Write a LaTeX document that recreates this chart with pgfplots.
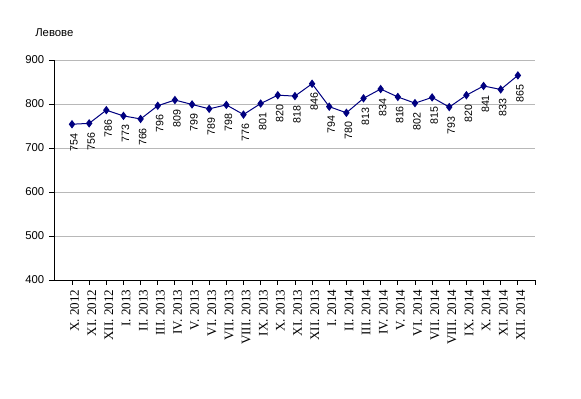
\documentclass[border=0pt]{standalone}
\usepackage{fontspec}
\setmainfont{Liberation Sans}
\newfontfamily\tnr{Liberation Serif}
\usepackage{pgfplots}
\pgfplotsset{compat=1.18}
\definecolor{navy}{RGB}{0,0,128}
\begin{document}
\begin{tikzpicture}
\useasboundingbox (0,0) rectangle (435.75pt,299.25pt);
\begin{axis}[
  at={(40.5pt,89.25pt)}, anchor=south west,
  scale only axis, width=360.75pt, height=165pt,
  xmin=-1.05, xmax=27, ymin=400, ymax=900,
  axis x line=bottom, axis y line=left,
  axis line style={-, black, line width=0.6pt},
  ytick={400,500,...,900},
  ymajorgrids, grid style={black!28, line width=0.6pt},
  xtick={0,...,27},
  xticklabels={X. 2012, XI. 2012, XII. 2012, I. 2013, II. 2013, III. 2013, IV. 2013, V. 2013, VI. 2013, VII. 2013, VIII. 2013, IX. 2013, X. 2013, XI. 2013, XII. 2013, I. 2014, II. 2014, III. 2014, IV. 2014, V. 2014, VI. 2014, VII. 2014, VIII. 2014, IX. 2014, X. 2014, XI. 2014, XII. 2014,{}},
  tick align=outside, major tick length=3.75pt,
  tick style={black, line width=0.6pt},
  x tick label style={font=\tnr\fontsize{9.8}{10}\selectfont, rotate=90, anchor=east, yshift=-2pt},
  y tick label style={font=\fontsize{8.5}{10}\selectfont},
  /pgf/number format/assume math mode=true,
  nodes near coords,
  every node near coord/.append style={font=\fontsize{8}{9}\selectfont, xshift=1.5pt, yshift=-5.5pt, rotate=90, anchor=east, inner sep=1pt, text=black},
  clip=false,
]
\addplot[navy, line width=0.75pt, mark=diamond*, mark size=2.6pt, mark options={fill=navy, draw=navy}] coordinates {
(0,754) (1,756) (2,786) (3,773) (4,766) (5,796) (6,809) (7,799) (8,789) (9,798)
(10,776) (11,801) (12,820) (13,818) (14,846) (15,794) (16,780) (17,813) (18,834)
(19,816) (20,802) (21,815) (22,793) (23,820) (24,841) (25,833) (26,865)
};
\end{axis}
\node[anchor=west, font=\fontsize{8.5}{10}\selectfont, inner sep=0pt] at (26.25pt,274.5pt) {Левове};
\end{tikzpicture}
\end{document}
